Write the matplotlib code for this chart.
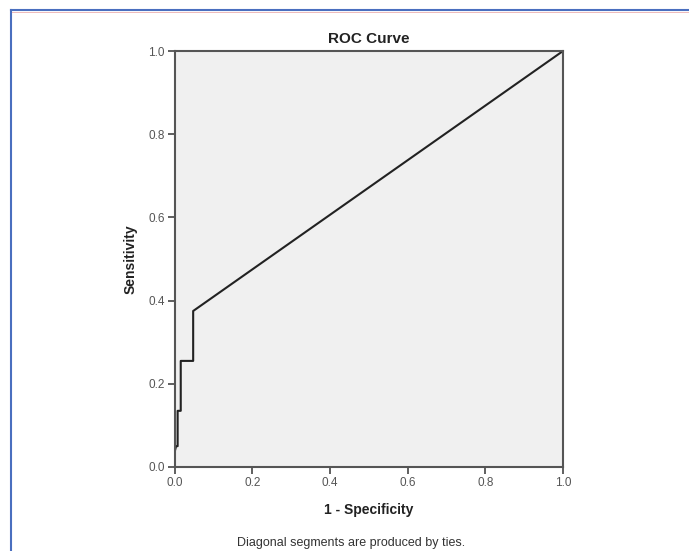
# ROC 曲线
import matplotlib.pyplot as plt
from matplotlib.lines import Line2D

plt.rcParams['font.family'] = ['Liberation Sans', 'DejaVu Sans']

# 读取自图片的 ROC 点
fpr = [0.0, 0.0, 0.004, 0.008, 0.008, 0.016, 0.016, 0.048, 0.048, 1.0]
tpr = [0.0, 0.035, 0.05, 0.05, 0.135, 0.135, 0.255, 0.255, 0.375, 1.0]
ticks = [0.0, 0.2, 0.4, 0.6, 0.8, 1.0]
tick_labels = ['0.0', '0.2', '0.4', '0.6', '0.8', '1.0']

fig = plt.figure(figsize=(6.89, 5.51), dpi=100)
fig.patch.set_facecolor('white')
ax = fig.add_axes([0.2533, 0.1525, 0.5638, 0.7549])
ax.set_facecolor('#f0f0f0')

ax.plot(fpr, tpr, color='#222222', linewidth=1.5)

ax.set_xlim(0, 1)
ax.set_ylim(0, 1)
ax.set_xticks(ticks)
ax.set_xticklabels(tick_labels)
ax.set_yticks(ticks)
ax.set_yticklabels(tick_labels)
ax.tick_params(direction='out', length=5, width=1.2, color='#444444',
               labelcolor='#555555', labelsize=8.5, pad=2)
for s in ax.spines.values():
    s.set_color('#555555')
    s.set_linewidth(1.5)

ax.set_title('ROC Curve', fontsize=11, fontweight='bold', color='#222222', pad=6)
ax.set_xlabel('1 - Specificity', fontsize=10, fontweight='bold', color='#222222', labelpad=10)
ax.set_ylabel('Sensitivity', fontsize=10, fontweight='bold', color='#222222', labelpad=8)

fig.text(0.509, 1 - 543 / 551, 'Diagonal segments are produced by ties.', ha='center', va='center',
         fontsize=9, color='#333333')

# 外框蓝线
fig.add_artist(Line2D([11 / 689, 1], [1 - 10 / 551, 1 - 10 / 551], color='#4a6fbf', linewidth=1.5,
                      transform=fig.transFigure))
fig.add_artist(Line2D([11 / 689, 1], [1 - 12 / 551, 1 - 12 / 551], color='#e8a0a0', linewidth=0.5,
                      transform=fig.transFigure))
fig.add_artist(Line2D([11 / 689, 11 / 689], [0, 1 - 10 / 551], color='#4a6fbf', linewidth=1.5,
                      transform=fig.transFigure))

plt.savefig('out.png', dpi=100)
